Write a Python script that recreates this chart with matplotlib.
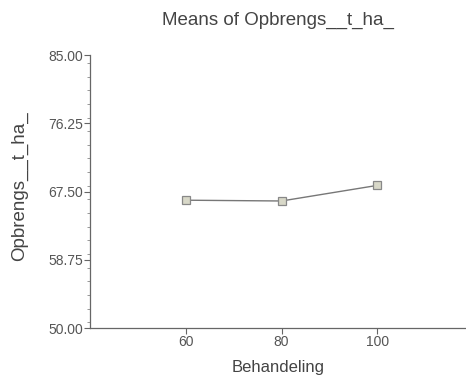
import matplotlib
matplotlib.use("Agg")
import matplotlib.pyplot as plt
from matplotlib.ticker import MultipleLocator, FormatStrFormatter

plt.rcParams['font.family'] = ['Liberation Sans', 'DejaVu Sans']

# Mean yield per treatment level
behandeling = [60, 80, 100]
opbrengst = [66.4, 66.3, 68.3]

yticks = [50.00, 58.75, 67.50, 76.25, 85.00]
xticks = [60, 80, 100]

fig = plt.figure(figsize=(4.66, 3.75), dpi=100)
ax = fig.add_axes([0.193, 0.125, 0.807, 0.728])

ax.plot(behandeling, opbrengst, color='#777777', linewidth=1.0,
        marker='s', markersize=5.5, markerfacecolor='#d8d8c8',
        markeredgecolor='#888888', markeredgewidth=0.9)

ax.set_xlim(40, 118.5)
ax.set_ylim(50, 85)
ax.set_yticks(yticks)
ax.set_xticks(xticks)
ax.yaxis.set_major_formatter(FormatStrFormatter('%.2f'))
ax.yaxis.set_minor_locator(MultipleLocator(1.75))

for s in ('top', 'right'):
    ax.spines[s].set_visible(False)
for s in ('left', 'bottom'):
    ax.spines[s].set_color('#666666')
    ax.spines[s].set_linewidth(0.9)

ax.tick_params(axis='both', which='major', labelsize=10, colors='#666666',
               labelcolor='#555555', length=4, width=0.8, pad=1)
ax.tick_params(axis='y', which='minor', colors='#888888', length=2.5, width=0.6)

ax.set_title('Means of Opbrengs__t_ha_', fontsize=13.5, color='#444444', pad=22)
ax.set_xlabel('Behandeling', fontsize=12, color='#444444', labelpad=8)
ax.set_ylabel('Opbrengs__t_ha_', fontsize=13.5, color='#444444')
ax.yaxis.set_label_coords(-0.165, 0.52)

fig.savefig('out.png', dpi=100)
